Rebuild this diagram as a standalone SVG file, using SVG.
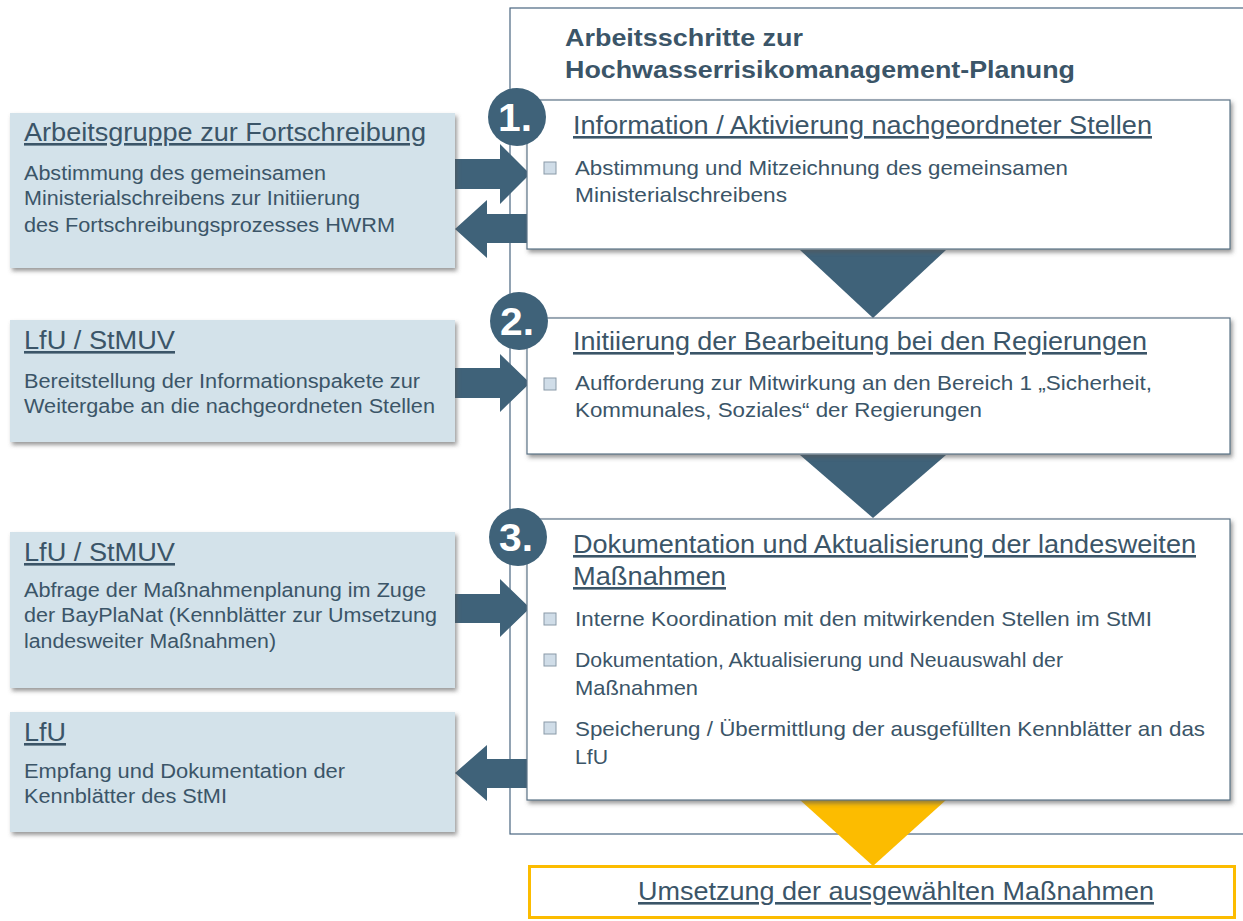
<svg xmlns="http://www.w3.org/2000/svg" width="1243" height="921" viewBox="0 0 1243 921">
<style>
.bg{fill:#ffffff}
.lbox{fill:#d3e2ea;filter:url(#sh)}
.sbox{fill:#ffffff;stroke:#5b7386;stroke-width:1.2;filter:url(#sh)}
.frame{fill:none;stroke:#4a6680;stroke-width:1.2}
.dark{fill:#3f6279}
.yel{fill:#fcbc00}
.h{font-family:"Liberation Sans",Arial,sans-serif;fill:#3b5568;text-decoration:underline}
.hl{font-size:26px}
.hs{font-size:26px}
.t{font-family:"Liberation Sans",Arial,sans-serif;fill:#3b5568;font-size:19.5px}
.ts{font-family:"Liberation Sans",Arial,sans-serif;fill:#3b5568;font-size:21px}
.title{font-family:"Liberation Sans",Arial,sans-serif;fill:#3b5568;font-size:23px;font-weight:bold}
.num{font-family:"Liberation Sans",Arial,sans-serif;fill:#ffffff;font-size:38px;font-weight:bold}
.bul{fill:#d0dde8;stroke:#8a9aa8;stroke-width:1}
</style>
<defs>
<filter id="sh" x="-5%" y="-10%" width="115%" height="130%">
<feDropShadow dx="2" dy="3" stdDeviation="2" flood-color="#555555" flood-opacity="0.6"/>
</filter>
</defs>
<rect class="bg" x="0" y="0" width="1243" height="921"/>
<rect class="frame" x="510" y="8" width="740" height="826"/>
<g id="title">
<text class="title" x="565" y="46" textLength="238" lengthAdjust="spacingAndGlyphs">Arbeitsschritte zur</text>
<text class="title" x="565" y="78" textLength="510" lengthAdjust="spacingAndGlyphs">Hochwasserrisikomanagement-Planung</text>
</g>
<g id="connectors">
<polygon class="dark" points="800,250 946,250 873,318"/>
<polygon class="dark" points="800,455 946,455 873,518"/>
<polygon class="yel" points="800,800 946,800 873,866"/>
<polygon class="dark" points="455,159 500,159 500,144 530,174 500,204 500,189 455,189"/>
<polygon class="dark" points="528,214 487,214 487,200 455,229 487,258 487,243 528,243"/>
<polygon class="dark" points="455,368 500,368 500,354 530,383 500,412 500,398 455,398"/>
<polygon class="dark" points="455,594 500,594 500,579 530,608 500,637 500,623 455,623"/>
<polygon class="dark" points="528,759 487,759 487,745 455,773 487,801 487,788 528,788"/>
</g>
<g id="boxA">
<rect class="lbox" x="10" y="113" width="445" height="155"/>
<text class="h hl" x="24" y="141" textLength="402" lengthAdjust="spacingAndGlyphs">Arbeitsgruppe zur Fortschreibung</text>
<text class="t" x="24" y="180" textLength="302" lengthAdjust="spacingAndGlyphs">Abstimmung  des gemeinsamen</text>
<text class="t" x="24" y="205" textLength="336" lengthAdjust="spacingAndGlyphs">Ministerialschreibens  zur  Initiierung</text>
<text class="t" x="24" y="232" textLength="371" lengthAdjust="spacingAndGlyphs">des Fortschreibungsprozesses  HWRM</text>
</g>
<g id="boxB">
<rect class="lbox" x="10" y="320" width="445" height="122"/>
<text class="h hl" x="24" y="349" textLength="151" lengthAdjust="spacingAndGlyphs">LfU / StMUV</text>
<text class="t" x="24" y="388" textLength="396" lengthAdjust="spacingAndGlyphs">Bereitstellung der Informationspakete zur</text>
<text class="t" x="24" y="413" textLength="411" lengthAdjust="spacingAndGlyphs">Weitergabe an die nachgeordneten  Stellen</text>
</g>
<g id="boxC">
<rect class="lbox" x="10" y="532" width="445" height="156"/>
<text class="h hl" x="24" y="561" textLength="151" lengthAdjust="spacingAndGlyphs">LfU / StMUV</text>
<text class="t" x="24" y="597" textLength="402" lengthAdjust="spacingAndGlyphs">Abfrage der Maßnahmenplanung  im Zuge</text>
<text class="t" x="24" y="622" textLength="413" lengthAdjust="spacingAndGlyphs">der BayPlaNat (Kennblätter zur Umsetzung</text>
<text class="t" x="24" y="648" textLength="252" lengthAdjust="spacingAndGlyphs">landesweiter Maßnahmen)</text>
</g>
<g id="boxD">
<rect class="lbox" x="10" y="712" width="445" height="120"/>
<text class="h hl" x="24" y="741" textLength="42" lengthAdjust="spacingAndGlyphs">LfU</text>
<text class="t" x="24" y="778" textLength="321" lengthAdjust="spacingAndGlyphs">Empfang  und Dokumentation  der</text>
<text class="t" x="24" y="803" textLength="203" lengthAdjust="spacingAndGlyphs">Kennblätter  des StMI</text>
</g>
<g id="step1">
<rect class="sbox" x="527" y="100" width="703" height="149"/>
<circle class="dark" cx="517" cy="117" r="29"/>
<text class="num" x="515" y="131" text-anchor="middle" textLength="34" lengthAdjust="spacingAndGlyphs">1.</text>
<text class="h hs" x="573" y="134" textLength="579" lengthAdjust="spacingAndGlyphs">Information / Aktivierung nachgeordneter Stellen</text>
<rect class="bul" x="544" y="162" width="12" height="12"/>
<text class="ts" x="575" y="175" textLength="493" lengthAdjust="spacingAndGlyphs">Abstimmung  und Mitzeichnung des gemeinsamen</text>
<text class="ts" x="575" y="202" textLength="212" lengthAdjust="spacingAndGlyphs">Ministerialschreibens</text>
</g>
<g id="step2">
<rect class="sbox" x="527" y="318" width="703" height="136"/>
<circle class="dark" cx="519" cy="321" r="29"/>
<text class="num" x="517" y="335" text-anchor="middle" textLength="34" lengthAdjust="spacingAndGlyphs">2.</text>
<text class="h hs" x="573" y="350" textLength="574" lengthAdjust="spacingAndGlyphs">Initiierung der Bearbeitung bei den Regierungen</text>
<rect class="bul" x="544" y="378" width="12" height="12"/>
<text class="ts" x="575" y="390" textLength="577" lengthAdjust="spacingAndGlyphs">Aufforderung zur Mitwirkung an den Bereich 1 „Sicherheit,</text>
<text class="ts" x="575" y="417" textLength="407" lengthAdjust="spacingAndGlyphs">Kommunales, Soziales“ der Regierungen</text>
</g>
<g id="step3">
<rect class="sbox" x="527" y="519" width="703" height="281"/>
<circle class="dark" cx="518" cy="537" r="29"/>
<text class="num" x="516" y="551" text-anchor="middle" textLength="34" lengthAdjust="spacingAndGlyphs">3.</text>
<text class="h hs" x="573" y="553" textLength="623" lengthAdjust="spacingAndGlyphs">Dokumentation und Aktualisierung der landesweiten</text>
<text class="h hs" x="573" y="585" textLength="153" lengthAdjust="spacingAndGlyphs">Maßnahmen</text>
<rect class="bul" x="544" y="613" width="12" height="12"/>
<text class="ts" x="575" y="626" textLength="577" lengthAdjust="spacingAndGlyphs">Interne Koordination mit den mitwirkenden Stellen im StMI</text>
<rect class="bul" x="544" y="654" width="12" height="12"/>
<text class="ts" x="575" y="667" textLength="488" lengthAdjust="spacingAndGlyphs">Dokumentation, Aktualisierung und Neuauswahl der</text>
<text class="ts" x="575" y="695" textLength="123" lengthAdjust="spacingAndGlyphs">Maßnahmen</text>
<rect class="bul" x="544" y="722" width="12" height="12"/>
<text class="ts" x="575" y="736" textLength="630" lengthAdjust="spacingAndGlyphs">Speicherung / Übermittlung  der ausgefüllten Kennblätter an das</text>
<text class="ts" x="575" y="764" textLength="33" lengthAdjust="spacingAndGlyphs">LfU</text>
</g>
<g id="final">
<rect x="529.5" y="866.5" width="705" height="51" fill="#ffffff" stroke="#fcbc00" stroke-width="3"/>
<text class="h hs" x="638" y="900" textLength="516" lengthAdjust="spacingAndGlyphs">Umsetzung der ausgewählten Maßnahmen</text>
</g>
</svg>
